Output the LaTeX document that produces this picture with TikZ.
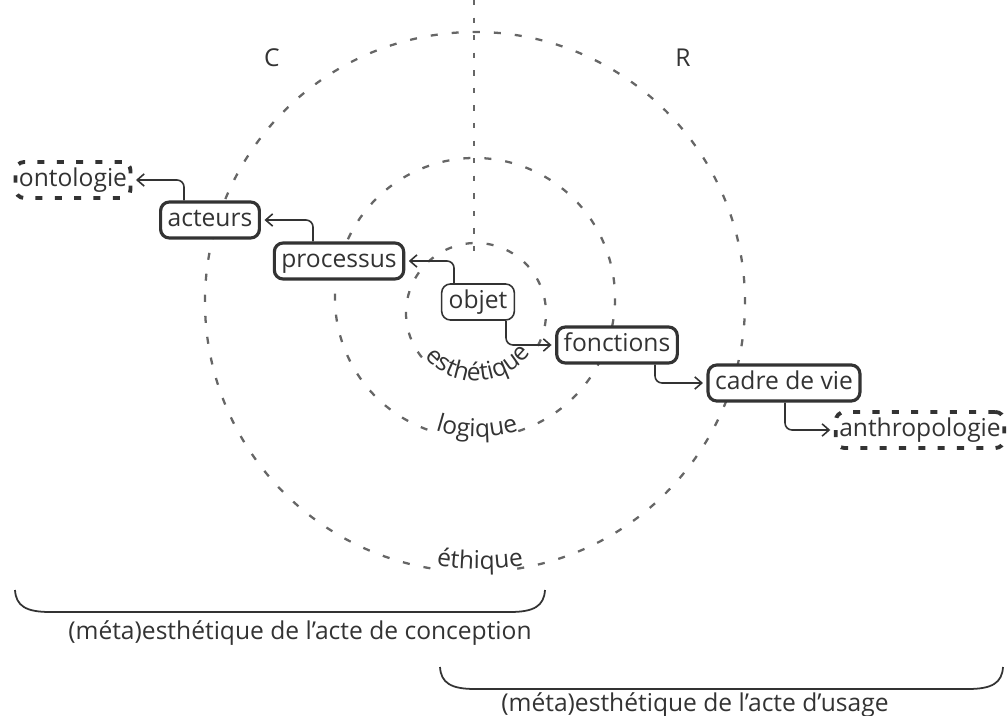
\documentclass[tikz,border=0pt]{standalone}
\usepackage{fontspec}
\setmainfont{Open Sans}
\usetikzlibrary{arrows.meta,decorations.text}

\definecolor{encre}{HTML}{333333}
\definecolor{trait}{HTML}{666666}
\newcommand{\taille}{\fontsize{14}{16}\selectfont}

\tikzset{
    bloc/.style={draw=encre, fill=white, text=encre, rounded corners=5pt, line width=1.8pt,
            inner xsep=4pt, inner ysep=3.5pt, text height=10.5pt, text depth=3pt},
    bord/.style={draw=encre, fill=white, dash pattern=on 4pt off 7pt, line width=2.2pt,
            rounded corners=5pt, inner xsep=2pt, inner ysep=3.5pt, text height=10.5pt, text depth=3pt},
    cercle/.style={draw=trait, line width=1.3pt, dash pattern=on 4pt off 8pt},
    fleche/.style={draw=encre, line width=0.9pt, rounded corners=4pt,
            -{Straight Barb[length=4pt,width=7pt]}, shorten >=2pt},
    accolade/.style={draw=encre, line width=1pt},
    courbe/.style={decorate, decoration={text along path, text align=center,
            text={|\taille\color{encre}|#1}}}
}

\begin{document}
\begin{tikzpicture}[x=0.02cm, y=0.02cm, every node/.style={font=\taille, text=encre}]
        \useasboundingbox (0,0) rectangle (1007,-716);

        % axe et cercles
        \coordinate (haut) at (474,0);
        \coordinate (bas) at (474,-255);
        \draw[draw=trait, line width=1.3pt, dash pattern=on 3pt off 7pt] (haut) -- (bas);

        \draw[cercle] (476,-313) ++(-28:70) arc[start angle=-28, end angle=222, radius=70];
        \draw[cercle] (475,-298) ++(-72:140) arc[start angle=-72, end angle=252, radius=140];
        \draw[cercle] (475,-302) ++(-81:270) arc[start angle=-81, end angle=261, radius=270];

        \path[courbe=esthétique] (476,-313) ++(-142:68) arc[start angle=-142, end angle=-34, radius=68];
        \path[courbe=logique] (477,-298) ++(-112:139) arc[start angle=-112, end angle=-68, radius=139];
        \path[courbe=éthique] (480,-302) ++(-100:267) arc[start angle=-100, end angle=-80, radius=267];

        \node (C) at (272,-58) {C};
        \node (R) at (683,-58) {R};

        % les blocs
        \node[bord] (ontologie) at (73,-180) {ontologie};
        \node[bloc] (acteurs) at (210,-220) {acteurs};
        \node[bloc] (processus) at (339,-261) {processus};
        \node[bloc, line width=0.9pt] (objet) at (478,-302) {objet};
        \node[bloc] (fonctions) at (617,-345) {fonctions};
        \node[bloc] (cadre) at (784,-383) {cadre de vie};
        \node[bord] (anthropologie) at (920,-430) {anthropologie};

        \draw[fleche] ([xshift=-0.48cm]objet.north) |- (processus.east);
        \draw[fleche] ([xshift=-0.52cm]processus.north) |- (acteurs.east);
        \draw[fleche] ([xshift=-0.52cm]acteurs.north) |- (ontologie.east);
        \draw[fleche] ([xshift=0.56cm]objet.south) |- (fonctions.west);
        \draw[fleche] ([xshift=0.76cm]fonctions.south) |- (cadre.west);
        \draw[fleche] ([xshift=0.02cm]cadre.south) |- (anthropologie.west);

        % accolades du bas
        \draw[accolade] (15,-590) .. controls (16,-606) and (26,-612) .. (50,-612)
            -- (510,-612) .. controls (534,-612) and (544,-606) .. (545,-590);
        \node (conception) at (300,-633) {(méta)esthétique de l’acte de conception};

        \draw[accolade] (440,-667) .. controls (441,-683) and (451,-689) .. (475,-689)
            -- (968,-689) .. controls (992,-689) and (1002,-683) .. (1003,-667);
        \node (usage) at (695,-705) {(méta)esthétique de l’acte d’usage};
\end{tikzpicture}
\end{document}
